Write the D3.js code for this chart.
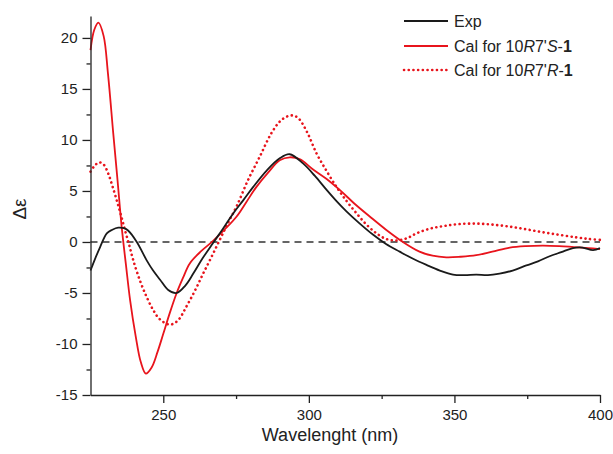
<!DOCTYPE html>
<html>
<head>
<meta charset="utf-8">
<script src="https://cdn.jsdelivr.net/npm/d3@7"></script>
<style>
  body { margin: 0; background: #fff; }
  svg { font-family: "Liberation Sans", Arial, sans-serif; }
</style>
</head>
<body>
<div id="chart"></div>
<script>
// experimental CD curve
var expX = [225, 226.5, 228.3, 230.6, 232.5, 234.5, 236.5, 238, 240.9, 244.3, 246.5, 248.9, 251.7, 254.6, 257.5, 260.3, 263.5, 267.1, 270.5, 274, 277.5, 280.9, 285.5, 290, 293.4, 298, 302, 306.1, 309.5, 312.9, 317.5, 322.1, 326.5, 331.2, 335.8, 340.4, 345, 349.5, 353.5, 357.5, 361.5, 365.5, 370, 374.7, 378.7, 382.7, 386.7, 390.7, 394, 397.6, 400];
var expY = [-2.8, -1.7, -0.5, 0.85, 1.2, 1.4, 1.35, 1.1, 0, -1.8, -2.8, -3.7, -4.7, -5.0, -4.3, -3.1, -1.6, -0.1, 1.3, 2.8, 4.1, 5.4, 7.0, 8.2, 8.6, 7.7, 6.5, 5.1, 4.0, 3.0, 1.8, 0.7, -0.2, -0.95, -1.65, -2.25, -2.8, -3.2, -3.25, -3.2, -3.25, -3.1, -2.8, -2.3, -1.9, -1.4, -1.0, -0.6, -0.55, -0.8, -0.6];

// calculated for 10R7'S-1
var calSX = [225, 226.3, 227.7, 229.5, 231, 232.8, 234.3, 235.7, 237.2, 238.6, 240.5, 242.3, 244, 246, 248, 250, 252.3, 254.6, 256.8, 259.1, 263, 267.1, 271, 275.2, 278.5, 282, 286, 290, 293.4, 297, 301, 306, 310.6, 315.5, 320.9, 326.5, 332.3, 338, 342.5, 347.2, 352, 357.5, 363, 369, 374.5, 380.4, 386, 391, 396, 400];
var calSY = [18.8, 20.8, 21.5, 20.2, 16.5, 10.7, 6.0, 1.5, -2.3, -5.7, -9.2, -11.8, -12.9, -12.3, -10.8, -9.0, -6.9, -5.0, -3.5, -2.1, -0.9, 0.1, 1.2, 2.5, 3.9, 5.4, 6.8, 8.0, 8.3, 8.1, 7.2, 6.2, 5.1, 3.8, 2.5, 1.2, 0, -0.95, -1.35, -1.5, -1.45, -1.3, -0.95, -0.55, -0.4, -0.35, -0.4, -0.5, -0.6, -0.7];

// calculated for 10R7'R-1
var calRX = [225, 226.5, 228, 229.5, 231.1, 232.5, 234, 235.4, 236.8, 238.3, 239.7, 242, 244.3, 246.6, 248.9, 252.3, 255, 258, 261, 263.7, 266.5, 269.4, 272.3, 275.2, 279, 283.2, 287, 290, 292.5, 294.5, 296.5, 299.5, 302.6, 306, 309.5, 313, 316.4, 319.8, 323.2, 326.5, 330.1, 333.5, 337, 341.5, 346.1, 351.5, 357.5, 363, 369, 374.5, 380.4, 386, 391.8, 396, 400];
var calRY = [6.9, 7.5, 7.8, 7.6, 6.7, 5.5, 4.1, 2.7, 1.2, -0.3, -1.8, -3.8, -5.4, -6.7, -7.6, -8.1, -7.7, -6.3, -4.7, -3.1, -1.5, 0.2, 1.9, 3.5, 6.0, 8.4, 10.6, 11.8, 12.3, 12.4, 12.1, 10.7, 8.7, 7.0, 5.4, 4.0, 2.8, 1.7, 0.85, 0.3, 0.15, 0.35, 0.85, 1.3, 1.55, 1.75, 1.8, 1.7, 1.5, 1.25, 0.95, 0.7, 0.45, 0.3, 0.2];

var xMajor = [250, 300, 350, 400];
var xMinor = [275, 325, 375];
var yMajor = [-15, -10, -5, 0, 5, 10, 15, 20];
var yMinor = [-12.5, -7.5, -2.5, 2.5, 7.5, 12.5, 17.5];

var red = "#e8141c", black = "#1a1a1a";

var W = 613, H = 454;
var margin = {top: 16, right: 13, bottom: 59, left: 90.5},
    width = W - margin.left - margin.right,
    height = H - margin.top - margin.bottom;

var svg = d3.select("#chart").append("svg")
    .attr("width", W)
    .attr("height", H);

var g = svg.append("g")
    .attr("transform", "translate(" + margin.left + "," + margin.top + ")");

var x = d3.scaleLinear().domain([225, 400]).range([0, width]);
var y = d3.scaleLinear().domain([-15, 22.15]).range([height, 0]);

// zero line
g.append("line")
  .attr("x1", 0).attr("x2", width)
  .attr("y1", y(0)).attr("y2", y(0))
  .attr("stroke", "#333")
  .attr("stroke-width", 1.4)
  .attr("stroke-dasharray", "7,5");

// curves
var line = d3.line()
    .x(function(d) { return x(d[0]); })
    .y(function(d) { return y(d[1]); })
    .curve(d3.curveCatmullRom);

function pairs(xs, ys) { return xs.map(function(v, i) { return [v, ys[i]]; }); }

g.append("path")
  .attr("d", line(pairs(calRX, calRY)))
  .attr("fill", "none")
  .attr("stroke", red)
  .attr("stroke-width", 2.6)
  .attr("stroke-linecap", "round")
  .attr("stroke-dasharray", "0.1,4.6");

g.append("path")
  .attr("d", line(pairs(calSX, calSY)))
  .attr("fill", "none")
  .attr("stroke", red)
  .attr("stroke-width", 1.8);

g.append("path")
  .attr("d", line(pairs(expX, expY)))
  .attr("fill", "none")
  .attr("stroke", black)
  .attr("stroke-width", 1.8);

// axes (plain hyphen for negatives, like the original)
var fmt = function(d) { return String(d); };

g.append("g")
  .attr("transform", "translate(0," + height + ")")
  .call(d3.axisBottom(x).tickValues(xMajor).tickFormat(fmt).tickSize(8).tickSizeOuter(0).tickPadding(6));
g.append("g")
  .attr("transform", "translate(0," + height + ")")
  .call(d3.axisBottom(x).tickValues(xMinor).tickSize(4).tickFormat(""))
  .select(".domain").remove();

g.append("g")
  .call(d3.axisLeft(y).tickValues(yMajor).tickFormat(fmt).tickSize(8).tickSizeOuter(0).tickPadding(5));
g.append("g")
  .call(d3.axisLeft(y).tickValues(yMinor).tickSize(4).tickFormat(""))
  .select(".domain").remove();

g.selectAll(".domain, .tick line")
  .attr("stroke", "#222")
  .attr("stroke-width", 1.3);
g.selectAll(".tick text")
  .attr("font-size", 15)
  .attr("fill", "#222")
  .style("font-family", "Liberation Sans, Arial, sans-serif");

// axis titles
svg.append("text")
  .attr("x", 330).attr("y", 441)
  .attr("text-anchor", "middle")
  .attr("font-size", 18)
  .attr("fill", "#222")
  .text("Wavelenght (nm)");

svg.append("text")
  .attr("transform", "translate(26,209) rotate(-90)")
  .attr("text-anchor", "middle")
  .attr("font-size", 19)
  .attr("fill", "#222")
  .text("\u0394\u03b5");

// legend
var legend = svg.append("g");
var rows = [
  {y: 21, color: black, dash: null, w: 1.8},
  {y: 46, color: red, dash: null, w: 1.8},
  {y: 70, color: red, dash: "0.1,4.6", w: 2.6}
];
rows.forEach(function(r) {
  legend.append("line")
    .attr("x1", 404).attr("x2", 448)
    .attr("y1", r.y).attr("y2", r.y)
    .attr("stroke", r.color)
    .attr("stroke-width", r.w)
    .attr("stroke-linecap", r.dash ? "round" : "butt")
    .attr("stroke-dasharray", r.dash);
});

function legendText(yy, parts) {
  var t = legend.append("text")
    .attr("x", 454).attr("y", yy + 6)
    .attr("font-size", 16)
    .attr("fill", "#222");
  parts.forEach(function(p) {
    var s = t.append("tspan").text(p[0]);
    if (p[1] === "i") s.attr("font-style", "italic");
    if (p[1] === "b") s.attr("font-weight", "bold");
  });
}
legendText(21, [["Exp", ""]]);
legendText(46, [["Cal for 10", ""], ["R", "i"], ["7'", ""], ["S", "i"], ["-", ""], ["1", "b"]]);
legendText(70, [["Cal for 10", ""], ["R", "i"], ["7'", ""], ["R", "i"], ["-", ""], ["1", "b"]]);
</script>
</body>
</html>
